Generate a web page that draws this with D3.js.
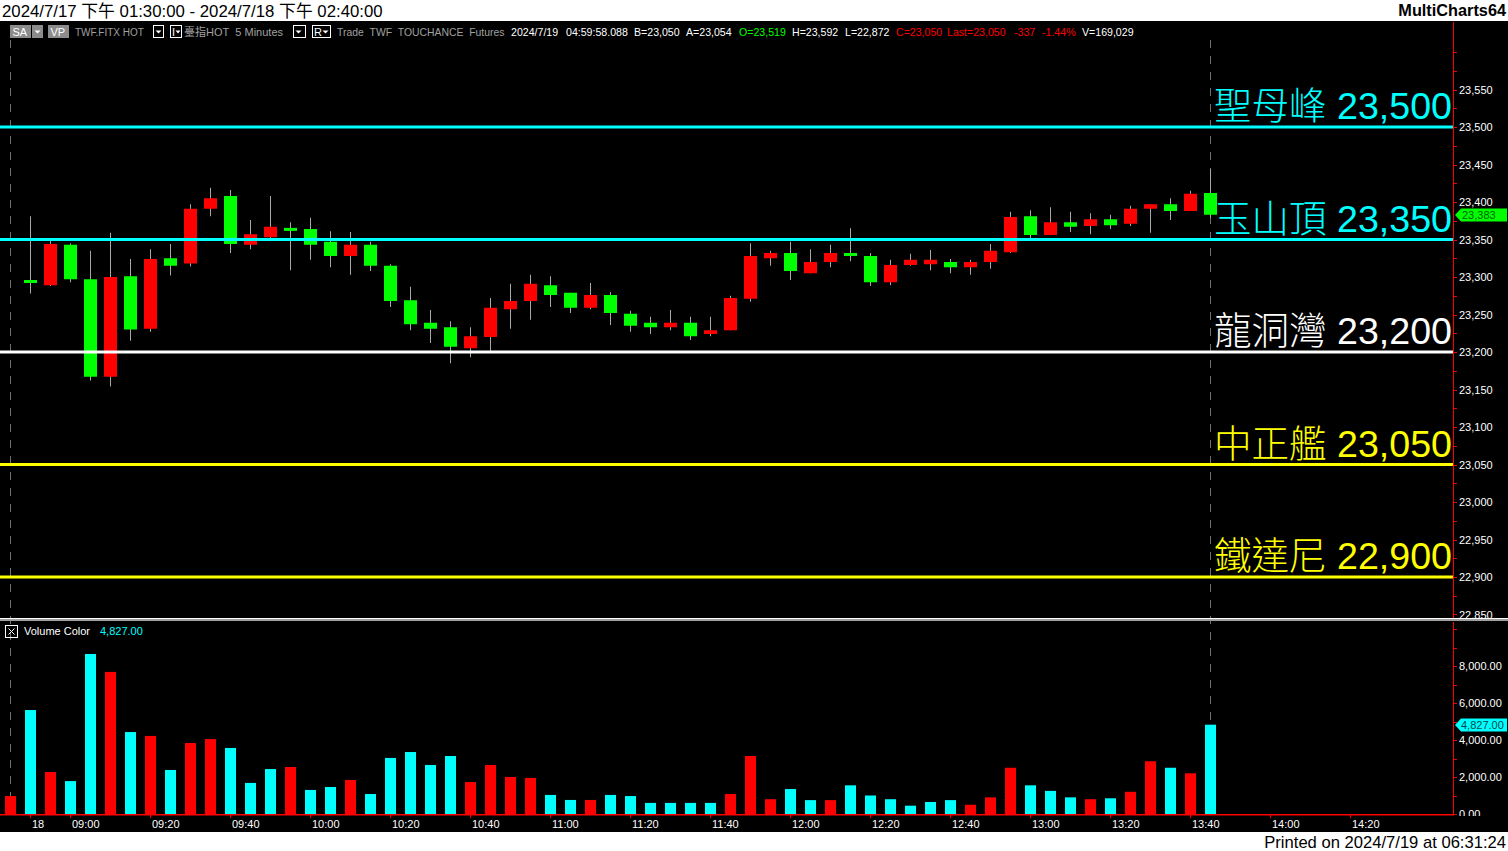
<!DOCTYPE html>
<html><head><meta charset="utf-8">
<script src="https://cdn.jsdelivr.net/npm/d3@7"></script>
<style>body{margin:0;background:#fff;overflow:hidden}svg{display:block}</style>
</head><body><svg id="c" width="1508" height="851"></svg>
<script>
// ---------- DATA ----------
const opens  = [23295,23289,23343,23297,23167,23301,23231,23325,23318,23391,23408,23343,23353,23365,23364,23347,23328,23343,23315,23269,23239,23233,23205,23220,23257,23268,23289,23279,23259,23276,23251,23239,23233,23239,23224,23229,23271,23325,23332,23305,23320,23332,23328,23293,23316,23317,23320,23313,23320,23333,23381,23356,23373,23368,23377,23371,23391,23397,23388,23412];
const highs  = [23381,23349,23345,23335,23359,23324,23337,23344,23397,23419,23416,23376,23408,23373,23379,23361,23360,23347,23317,23287,23256,23241,23233,23272,23291,23303,23301,23279,23292,23280,23255,23247,23256,23247,23247,23275,23345,23335,23347,23337,23343,23365,23332,23323,23331,23336,23324,23323,23344,23387,23389,23393,23387,23385,23383,23395,23397,23405,23415,23444];
const lows   = [23278,23288,23293,23162,23154,23215,23227,23302,23314,23381,23332,23337,23352,23309,23323,23313,23303,23308,23260,23229,23212,23185,23193,23201,23231,23243,23260,23252,23257,23236,23227,23224,23229,23216,23221,23229,23267,23315,23296,23305,23313,23321,23288,23289,23315,23309,23305,23303,23311,23332,23352,23356,23360,23357,23364,23368,23359,23376,23388,23379];
const closes = [23293,23344,23297,23167,23300,23230,23324,23315,23391,23405,23344,23357,23367,23362,23343,23328,23343,23315,23268,23237,23231,23207,23221,23259,23268,23291,23276,23259,23276,23252,23235,23233,23239,23221,23229,23272,23328,23332,23308,23320,23332,23328,23293,23316,23323,23323,23313,23320,23335,23380,23356,23373,23367,23377,23369,23391,23397,23388,23411,23383];
// volume: index 0 is the bar before the first visible candle
const volumes = [970,5620,2270,1780,8650,7680,4430,4220,2380,3840,4050,3570,1680,2430,2540,1300,1460,1840,1080,3030,3350,2650,3135,1730,2650,2000,1950,1030,760,760,1030,970,600,600,600,600,1080,3135,800,1350,750,750,1550,1000,800,450,650,750,500,900,2500,1550,1250,900,800,850,1200,2850,2500,2200,4827];
const volDir  = ["u","d","u","d","d","u","d","u","d","u","u","d","d","d","u","d","d","u","d","d","d","d","d","u","u","u","u","d","d","u","d","d","d","d","d","d","u","u","u","d","d","u","d","d","d","d","d","d","u","u","u","d","d","d","u","d","u","u","d","u","d"];
const levelPrices = [23500,23350,23200,23050,22900];
const levelNames  = ["聖母峰","玉山頂","龍洞灣","中正艦","鐵達尼"];
const xTickLabels = ["18","09:00","09:20","09:40","10:00","10:20","10:40","11:00","11:20","11:40","12:00","12:20","12:40","13:00","13:20","13:40","14:00","14:20"];
const xTickIndex  = [1,3,7,11,15,19,23,27,31,35,39,43,47,51,55,59,63,67];
const priceLabelTicks = [22850,22900,22950,23000,23050,23100,23150,23200,23250,23300,23350,23400,23450,23500,23550];
const volLabelTicks = [0,2000,4000,6000,8000];
const lastPrice = 23383, lastVolume = 4827;

// ---------- DRAW ----------
const W=1508,H=851, AX=1453;
const FONT='"Liberation Sans", Arial, "Noto Sans CJK TC", sans-serif';
const NB='\u00a0\u00a0';
const svg=d3.select('#c');
svg.append('rect').attr('width',W).attr('height',H).attr('fill','#fff');
svg.append('rect').attr('x',0).attr('y',21).attr('width',W).attr('height',811).attr('fill','#000');

const x  = d3.scaleLinear().domain([0,60]).range([10,1210]);
const yP = d3.scaleLinear().domain([22900,23500]).range([577,127]);
const yV = d3.scaleLinear().domain([0,8000]).range([814,666]);
const fmt = d3.format(',');
const fmt2 = d3.format(',.2f');

const defs=svg.append('defs');
defs.append('clipPath').attr('id','cp').append('rect').attr('x',0).attr('y',22).attr('width',AX).attr('height',596);
defs.append('clipPath').attr('id','cv').append('rect').attr('x',0).attr('y',622).attr('width',AX).attr('height',192);
defs.append('clipPath').attr('id','cpa').append('rect').attr('x',AX).attr('y',22).attr('width',60).attr('height',596);
defs.append('clipPath').attr('id','cva').append('rect').attr('x',AX).attr('y',622).attr('width',60).attr('height',194);

// header
svg.append('text').attr('x',2).attr('y',16.5).attr('font-family',FONT).attr('font-size',16.8).attr('fill','#000')
  .text('2024/7/17 下午 01:30:00 - 2024/7/18 下午 02:40:00');
svg.append('text').attr('x',1506).attr('y',16).attr('text-anchor','end').attr('font-family',FONT).attr('font-size',16.3).attr('font-weight','bold').attr('fill','#000')
  .text('MultiCharts64');
svg.append('text').attr('x',1506).attr('y',848).attr('text-anchor','end').attr('font-family',FONT).attr('font-size',16.6).attr('fill','#000')
  .text('Printed on 2024/7/19 at 06:31:24');

// info bar
const ib=svg.append('g').attr('font-family',FONT).attr('font-size',11);
function btn(x0,w,label,filled){
  ib.append('rect').attr('x',x0+0.5).attr('y',25.5).attr('width',w).attr('height',12)
    .attr('fill',filled?'#8c8c8c':'#000').attr('stroke',filled?'#8c8c8c':'#fff');
  if(label) ib.append('text').attr('x',x0+2.5).attr('y',36).attr('fill','#fff').text(label);
}
btn(10,20,'SA',true); btn(32,10,'',true);
ib.append('path').attr('d','M34.5,30.5 h6 l-3,3 z').attr('fill','#fff');
btn(48,20,'VP',true);
ib.append('text').attr('x',75).attr('y',36).attr('fill','#a0a0a0').attr('font-size',10).text('TWF.FITX HOT');
[[153,10],[293,12]].forEach(([a,w])=>{btn(a,w,'',false);ib.append('path').attr('d',`M${a+2.5},30.5 h6 l-3,3 z`).attr('fill','#fff');});
btn(170,11,'',false); ib.append('text').attr('x',172).attr('y',36).attr('fill','#fff').text('I');
ib.append('path').attr('d','M175.5,30.5 h5 l-2.5,3 z').attr('fill','#fff');
btn(312,18,'',false); ib.append('text').attr('x',314).attr('y',36).attr('fill','#fff').text('R');
ib.append('path').attr('d','M322.5,30.5 h6 l-3,3 z').attr('fill','#fff');
ib.append('text').attr('x',184).attr('y',36).attr('fill','#a0a0a0').attr('font-size',11).text('臺指HOT'+NB+'5 Minutes');
ib.append('text').attr('x',337).attr('y',36).attr('fill','#a0a0a0').attr('font-size',10.4).text('Trade'+NB+'TWF'+NB+'TOUCHANCE'+NB+'Futures');
const infoItems=[[511,'2024/7/19','#fff'],[566,'04:59:58.088','#fff'],[634,'B=23,050','#fff'],[686,'A=23,054','#fff'],[739,'O=23,519','#00ff00'],[792,'H=23,592','#fff'],[845,'L=22,872','#fff'],[896,'C=23,050','#ff0000'],[947,'Last=23,050','#ff0000'],[1014,'-337','#ff0000'],[1042,'-1.44%','#ff0000'],[1082,'V=169,029','#fff']];
infoItems.forEach(([a,t,c])=>ib.append('text').attr('x',a).attr('y',36).attr('fill',c).attr('font-size',10.6).text(t));

// dashed session lines
[0,60].forEach(i=>{
  svg.append('line').attr('x1',x(i)+0.5).attr('x2',x(i)+0.5).attr('y1',40).attr('y2',814)
    .attr('stroke','#707070').attr('stroke-dasharray','8,8');
});

// candles
const cg=svg.append('g').attr('clip-path','url(#cp)');
const candles=opens.map((o,k)=>({i:k+1,o,h:highs[k],l:lows[k],c:closes[k]}));
cg.selectAll('line.w').data(candles).join('line').attr('class','w')
  .attr('x1',d=>Math.round(x(d.i))+0.5).attr('x2',d=>Math.round(x(d.i))+0.5)
  .attr('y1',d=>yP(d.h)).attr('y2',d=>yP(d.l)).attr('stroke','#a8a8a8').attr('stroke-width',1);
cg.selectAll('rect.b').data(candles).join('rect').attr('class','b')
  .attr('x',d=>Math.round(x(d.i))-6).attr('width',13)
  .attr('y',d=>{const t=yP(Math.max(d.o,d.c)),b=yP(Math.min(d.o,d.c));return b-t<3?(t+b)/2-1.5:t;})
  .attr('height',d=>Math.max(3,yP(Math.min(d.o,d.c))-yP(Math.max(d.o,d.c))))
  .attr('fill',d=>d.c>d.o?'#ff0000':'#00ff00');

// level lines + labels
const lvlColor={'聖母峰':'#00ffff','玉山頂':'#00ffff','龍洞灣':'#ffffff','中正艦':'#ffff00','鐵達尼':'#ffff00'};
const lv=levelPrices.map((p,k)=>({p,n:levelNames[k]}));
cg.selectAll('line.lv').data(lv).join('line').attr('class','lv')
  .attr('x1',0).attr('x2',AX).attr('y1',d=>yP(d.p)).attr('y2',d=>yP(d.p))
  .attr('stroke',d=>lvlColor[d.n]).attr('stroke-width',3);
cg.selectAll('text.lv').data(lv).join('text').attr('class','lv')
  .attr('x',AX-1).attr('y',d=>yP(d.p)-8).attr('text-anchor','end')
  .attr('font-family',FONT).attr('font-size',37.6).attr('font-weight',300).attr('fill',d=>lvlColor[d.n])
  .text(d=>d.n+' '+fmt(d.p));

// volume
const vg=svg.append('g').attr('clip-path','url(#cv)');
vg.selectAll('rect').data(volumes.map((v,i)=>({i,v,d:volDir[i]}))).join('rect')
  .attr('x',d=>Math.round(x(d.i))-5).attr('width',11)
  .attr('y',d=>yV(d.v)).attr('height',d=>yV(0)-yV(d.v))
  .attr('fill',d=>d.d==='u'?'#ff0000':'#00ffff');

// panel separator
svg.append('rect').attr('x',0).attr('y',618).attr('width',W).attr('height',1).attr('fill','#ffffff');
svg.append('rect').attr('x',0).attr('y',619).attr('width',W).attr('height',2).attr('fill','#a0a0a0');

// volume legend
svg.append('rect').attr('x',5.5).attr('y',625.5).attr('width',12).attr('height',12).attr('fill','none').attr('stroke','#fff');
svg.append('path').attr('d','M8.5,628.5 L14.5,634.5 M14.5,628.5 L8.5,634.5').attr('stroke','#fff');
svg.append('text').attr('x',24).attr('y',635).attr('font-family',FONT).attr('font-size',11).attr('fill','#fff').text('Volume Color');
svg.append('text').attr('x',100).attr('y',635).attr('font-family',FONT).attr('font-size',11).attr('fill','#00ffff').text(fmt2(lastVolume));

// price axis
svg.append('line').attr('x1',AX+0.5).attr('x2',AX+0.5).attr('y1',22).attr('y2',618).attr('stroke','#ff0000');
const pa=svg.append('g').attr('clip-path','url(#cpa)');
pa.selectAll('line').data(d3.range(22850,23625,25)).join('line')
  .attr('x1',AX).attr('x2',AX+4).attr('y1',d=>Math.round(yP(d))+0.5).attr('y2',d=>Math.round(yP(d))+0.5).attr('stroke','#ff0000');
pa.selectAll('text').data(priceLabelTicks).join('text')
  .attr('x',AX+6).attr('y',d=>yP(d)+4).attr('font-family',FONT).attr('font-size',11).attr('fill','#fff').text(d=>fmt(d));
// last price marker
const lpY=Math.round(yP(lastPrice));
svg.append('path').attr('d',`M${AX+2},${lpY} L${AX+8},${lpY-6.5} L1507,${lpY-6.5} L1507,${lpY+6.5} L${AX+8},${lpY+6.5} Z`).attr('fill','#00ff00');
svg.append('text').attr('x',AX+9).attr('y',lpY+4).attr('font-family',FONT).attr('font-size',11).attr('fill','#006000').text(fmt(lastPrice));

// volume axis
svg.append('line').attr('x1',AX+0.5).attr('x2',AX+0.5).attr('y1',622).attr('y2',815).attr('stroke','#ff0000');
const va=svg.append('g').attr('clip-path','url(#cva)');
va.selectAll('line').data(d3.range(0,10001,1000)).join('line')
  .attr('x1',AX).attr('x2',AX+4).attr('y1',d=>Math.round(yV(d))+0.5).attr('y2',d=>Math.round(yV(d))+0.5).attr('stroke','#ff0000');
va.selectAll('text').data(volLabelTicks).join('text')
  .attr('x',AX+6).attr('y',d=>yV(d)+4).attr('font-family',FONT).attr('font-size',11).attr('fill','#fff').text(d=>fmt2(d));
const lvY=Math.round(yV(lastVolume));
svg.append('path').attr('d',`M${AX+2},${lvY} L${AX+8},${lvY-6.5} L1507,${lvY-6.5} L1507,${lvY+6.5} L${AX+8},${lvY+6.5} Z`).attr('fill','#00ffff');
svg.append('text').attr('x',AX+8).attr('y',lvY+4).attr('font-family',FONT).attr('font-size',11).attr('fill','#004848').text(fmt2(lastVolume));

// x axis
svg.append('rect').attr('x',0).attr('y',814).attr('width',AX+1).attr('height',1.5).attr('fill','#ff0000');
const xa=svg.append('g');
xa.selectAll('line').data(xTickIndex).join('line')
  .attr('x1',d=>Math.round(x(d))+0.5).attr('x2',d=>Math.round(x(d))+0.5).attr('y1',815).attr('y2',818).attr('stroke','#ff0000');
xa.selectAll('text').data(xTickLabels).join('text')
  .attr('x',(d,k)=>x(xTickIndex[k])+2).attr('y',828).attr('font-family',FONT).attr('font-size',11).attr('fill','#fff').text(d=>d);
</script></body></html>
